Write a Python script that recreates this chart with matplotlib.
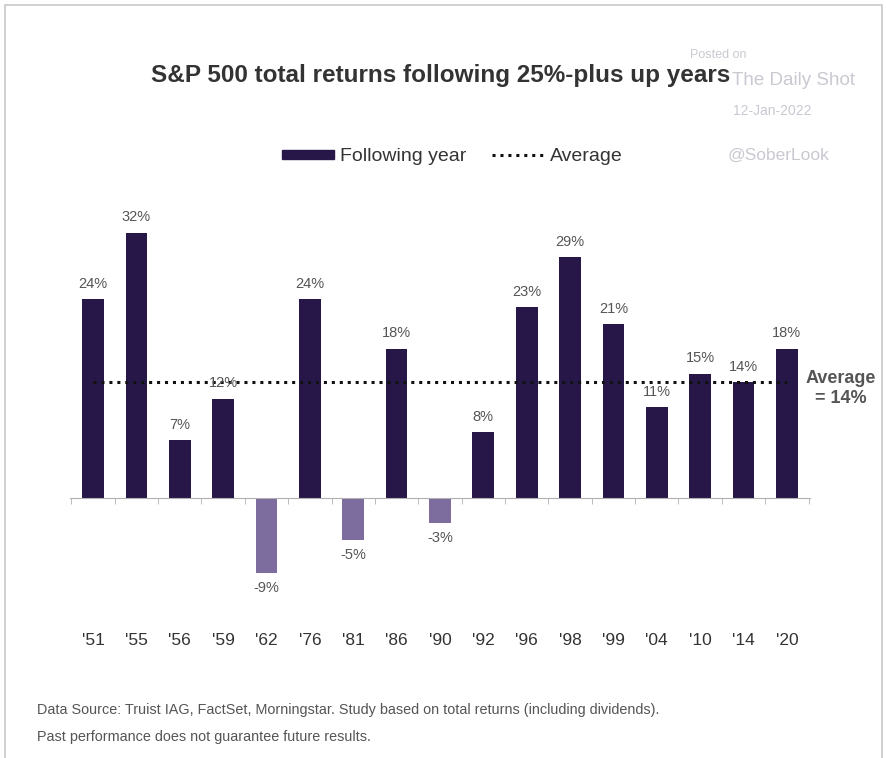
import matplotlib.pyplot as plt
from matplotlib.patches import Rectangle
from matplotlib.lines import Line2D

plt.rcParams['font.family'] = ['Liberation Sans', 'DejaVu Sans']

# ── data ──────────────────────────────────────────────────────────────────────
years   = ["'51", "'55", "'56", "'59", "'62", "'76", "'81", "'86", "'90",
           "'92", "'96", "'98", "'99", "'04", "'10", "'14", "'20"]
returns = [24, 32, 7, 12, -9, 24, -5, 18, -3, 8, 23, 29, 21, 11, 15, 14, 18]
AVERAGE = 14

DARK  = '#271748'
LIGHT = '#7d6c9e'
GREY  = '#555555'

fig = plt.figure(figsize=(8.87, 7.58), dpi=100)
ax = fig.add_axes([0.079, 0.129, 0.834, 0.607])

x = list(range(len(years)))
colors = [DARK if v >= 0 else LIGHT for v in returns]
ax.bar(x, returns, width=0.5, color=colors, zorder=2)

# dotted average line
ax.plot([x[0], x[-1]], [AVERAGE, AVERAGE], color='#111111', linestyle=(0, (1, 1.6)),
        linewidth=2.2, zorder=3)
ax.text(x[-1] + 1.25, AVERAGE - 0.8, 'Average\n= 14%', ha='center', va='center',
        fontsize=13, fontweight='bold', color=GREY, linespacing=1.25)

# value labels
for xi, v in zip(x, returns):
    if v >= 0:
        ax.text(xi, v + 1.0, f'{v}%', ha='center', va='bottom', fontsize=10.5, color=GREY)
    else:
        ax.text(xi, v - 1.0, f'{v}%', ha='center', va='top', fontsize=10.5, color=GREY)

# category labels far below the axis
for xi, lab in zip(x, years):
    ax.text(xi, -17.1, lab, ha='center', va='center', fontsize=12.5, color='#333333')

ax.set_xlim(-0.53, len(years) - 0.47)
ax.set_ylim(-19.5, 35.9)
for s in ['top', 'right', 'left']:
    ax.spines[s].set_visible(False)
ax.spines['bottom'].set_position(('data', 0))
ax.spines['bottom'].set_color('#b0b0b0')
ax.set_yticks([])
ax.set_xticks([])
ax.set_xticks([i - 0.5 for i in range(len(years) + 1)], minor=True)
ax.tick_params(axis='x', which='minor', length=4, color='#b0b0b0', labelbottom=False)

# title
fig.text(0.497, 0.9, 'S&P 500 total returns following 25%-plus up years',
         ha='center', va='center', fontsize=17.5, fontweight='bold', color='#333333')

# legend
handles = [Rectangle((0, 0), 1, 1, color=DARK),
           Line2D([0], [0], color='#111111', linestyle=(0, (1, 1.6)), linewidth=2.2)]
fig.legend(handles, ['Following year', 'Average'], loc='center',
           bbox_to_anchor=(0.51, 0.793), ncol=2, frameon=False, fontsize=14,
           handlelength=2.7, handleheight=0.4, handletextpad=0.3, columnspacing=1.3,
           labelcolor='#333333')

# watermark
wm = '#c9c9d2'
fig.text(0.778, 0.928, 'Posted on', fontsize=9, color=wm, ha='left', va='center')
fig.text(0.825, 0.894, 'The Daily Shot', fontsize=13.5, color=wm, ha='left', va='center')
fig.text(0.826, 0.853, '12-Jan-2022', fontsize=10, color=wm, ha='left', va='center')
fig.text(0.82, 0.795, '@SoberLook', fontsize=12.5, color=wm, ha='left', va='center')

# footer
fig.text(0.042, 0.063, 'Data Source: Truist IAG, FactSet, Morningstar. Study based on total '
         'returns (including dividends).', fontsize=10.4, color=GREY, ha='left', va='center')
fig.text(0.042, 0.028, 'Past performance does not guarantee future results.',
         fontsize=10.4, color=GREY, ha='left', va='center')

# frame
fig.patches.append(Rectangle((0.006, -0.01), 0.988, 1.003, transform=fig.transFigure,
                             fill=False, edgecolor='#c8c8c8', linewidth=1.2))

fig.savefig('out.png', dpi=100)
